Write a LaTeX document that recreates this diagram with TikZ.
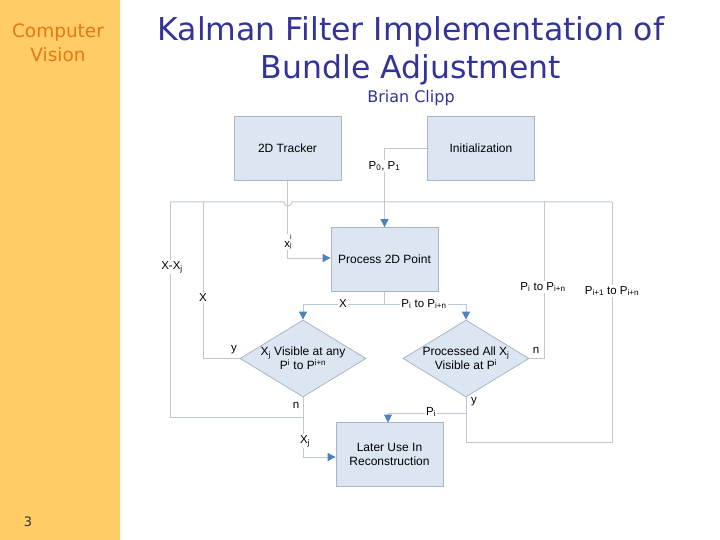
\documentclass[tikz,border=0pt]{standalone}
\usepackage{fontspec}
\setmainfont{Liberation Sans}
\newfontfamily\verd{DejaVu Sans}
\usetikzlibrary{shapes.geometric,arrows.meta}
\definecolor{barorange}{RGB}{255,204,102}
\definecolor{txtorange}{RGB}{230,120,20}
\definecolor{titleblue}{RGB}{51,51,153}
\definecolor{boxfill}{RGB}{220,230,242}
\definecolor{boxline}{RGB}{170,182,198}
\definecolor{wire}{RGB}{190,200,212}
\definecolor{tipblue}{RGB}{79,129,189}
\tikzset{
  procbox/.style={draw=boxline, fill=boxfill, line width=0.8pt, minimum width=107pt, minimum height=64pt, align=center, font=\fontsize{12}{14}\selectfont, inner sep=0pt},
  decis/.style={diamond, draw=boxline, fill=boxfill, line width=0.8pt, minimum width=126pt, minimum height=77pt, aspect=1.64, align=center, font=\fontsize{12}{14}\selectfont, inner sep=0pt},
  wireline/.style={draw=wire, line width=1pt},
  arr/.style={wireline, -{Triangle[fill=tipblue, color=tipblue, length=8pt, width=8pt]}},
  lbl/.style={fill=white, inner sep=1pt, font=\fontsize{11.5}{13}\selectfont},
}
\newcommand{\sub}[1]{\textsubscript{#1}}
\newcommand{\sups}[1]{\textsuperscript{#1}}
\begin{document}
\begin{tikzpicture}[x=1pt, y=-1pt]
\useasboundingbox (0,0) rectangle (720,540);
\fill[white] (0,0) rectangle (720,540);
\fill[barorange] (0,0) rectangle (120,540);
\node[text=txtorange, font=\verd\fontsize{18.5}{24}\selectfont, align=center] (cv) at (58,43) {Computer\\Vision};
\node[text=black!80, font=\verd\fontsize{13}{15}\selectfont] (pg) at (28,522) {3};
\node[text=titleblue, font=\verd\fontsize{31.5}{38}\selectfont, align=center] (title) at (411,51) {Kalman Filter Implementation of\\Bundle Adjustment};
\node[text=titleblue, font=\verd\fontsize{16}{18}\selectfont] (auth) at (411,98) {Brian Clipp};

% nodes
\node[procbox] (trk) at (287.5,148.5) {2D Tracker};
\node[procbox] (ini) at (481,148.5) {Initialization};
\node[procbox] (proc) at (384.5,259.5) {Process 2D Point};
\node[decis] (dl) at (303,358.5) {X\sub{j} Visible at any\\P\sups{i} to P\sups{i+n}};
\node[decis] (dr) at (466,358.5) {Processed All X\sub{j}\\Visible at P\sups{i}};
\node[procbox] (later) at (389.5,454.5) {Later Use In\\Reconstruction};

% coordinates
\coordinate (tl) at (170,202);
\coordinate (tr) at (612,202);
\coordinate (split) at (384.5,304);

% top loop
\draw[wireline] (tl) -- (284,202) arc (180:0:4) -- (tr);
\draw[wireline] (tl) -- (170,417) -- (303,417);
\draw[wireline] (203,202) -- (203,358.5) -- (dl.west);
\draw[wireline] (544,202) -- (544,358.5) -- (dr.east);
\draw[wireline] (tr) -- (612,442) -- (466,442) -- (dr.south);

% initialization to process
\draw[arr] (ini.west) -- (384.5,148.5) -- (proc.north);
\node[lbl] (p01) at (384.5,166) {P\sub{0}, P\sub{1}};
% tracker to process
\draw[arr] (trk.south) -- (287.5,258) -- (proc.west |- 0,258);
\node[lbl, inner sep=0.5pt] (xij) at (288,242) {x\fontsize{7}{7}\selectfont\begin{tabular}[b]{@{}l@{}}i\\j\end{tabular}};

% process to diamonds
\draw[wireline] (proc.south) -- (split);
\draw[arr] (split) -- (303,304) -- (dl.north);
\draw[arr] (split) -- (466,304) -- (dr.north);
\node[lbl] (lx) at (343,304) {X};
\node[lbl] (lpp) at (424,304) {P\sub{i} to P\sub{i+n}};

% left diamond to later
\draw[arr] (dl.south) -- (303,457) -- (later.west |- 0,457);
\node[lbl] (ln) at (296,405) {n};
\node[lbl] (lxj) at (305,441) {X\sub{j}};
% right diamond to later
\draw[arr] (466,413) -- (388,413) -- (388,422.5);
\node[lbl] (lpi) at (431,412) {P\sub{i}};
\node[font=\fontsize{11.5}{13}\selectfont] (ly) at (474,402) {y};

% loop labels
\node[lbl] (lxxj) at (172,267) {X-X\sub{j}};
\node[lbl] (lx2) at (203,298) {X};
\node[font=\fontsize{11.5}{13}\selectfont] (lyl) at (234,350) {y};
\node[font=\fontsize{11.5}{13}\selectfont] (lnr) at (536,350) {n};
\node[lbl] (lpp2) at (543,287) {P\sub{i} to P\sub{i+n}};
\node[lbl] (lpp3) at (612,291) {P\sub{i+1} to P\sub{i+n}};
\end{tikzpicture}
\end{document}
